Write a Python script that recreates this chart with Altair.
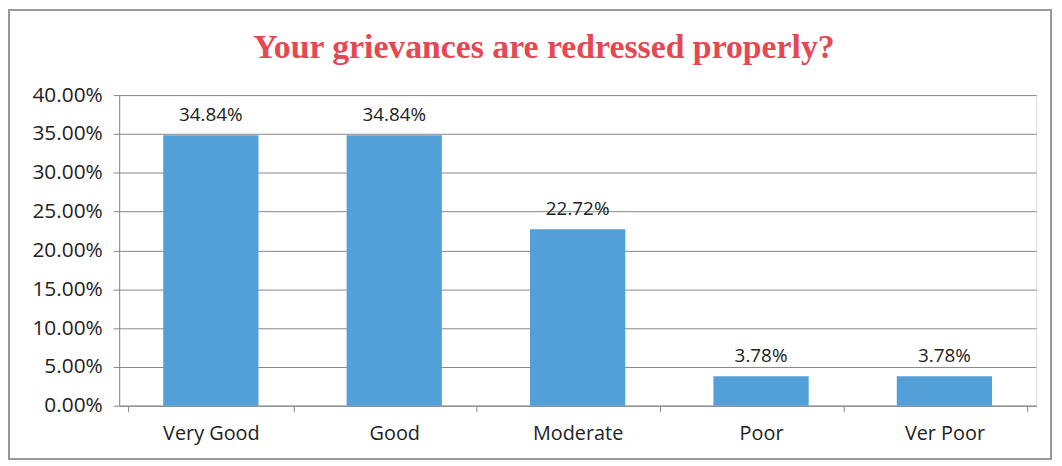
import altair as alt
import pandas as pd

categories = ["Very Good", "Good", "Moderate", "Poor", "Ver Poor"]
values = [0.3484, 0.3484, 0.2272, 0.0378, 0.0378]
y_ticks = [0, 0.05, 0.1, 0.15, 0.2, 0.25, 0.3, 0.35, 0.4]

df = pd.DataFrame({"cat": categories, "val": values})

W, H = 924, 313
FONT = "Open Sans"

xenc = alt.X("cat:N", sort=categories, title=None,
             axis=alt.Axis(labelAngle=0, labelFontSize=20, labelFont=FONT, labelColor="#222",
                           labelPadding=12, tickBand="extent", ticks=True, tickSize=6,
                           tickColor="#888", domainColor="#888", grid=False))
yenc = alt.Y("val:Q", title=None, scale=alt.Scale(domain=[0, 0.4]),
             axis=alt.Axis(format=".2%", values=y_ticks, labelOverlap=False,
                           labelFontSize=21, labelFont=FONT, labelColor="#222", labelPadding=11,
                           tickSize=6, tickColor="#888", domainColor="#888",
                           gridColor="#888", gridWidth=1))

base = alt.Chart(df).encode(x=xenc, y=yenc)

bars = base.mark_bar(color="#539fd8", size=96)

labels = base.mark_text(dy=-20, fontSize=19, font=FONT, color="#222").encode(
    text=alt.Text("val:Q", format=".2%"),
)

frame = alt.Chart(df).mark_rect(fill=None, stroke="#999", strokeWidth=1.5, clip=False).encode(
    x=alt.value(-111), x2=alt.value(W + 15),
    y=alt.value(-86), y2=alt.value(H + 54),
)

chart = alt.layer(bars, labels, frame).properties(
    width=W, height=H,
    padding={"left": 112, "top": 86, "right": 18, "bottom": 58},
    autosize=alt.AutoSizeParams(type="none"),
    title=alt.TitleParams("Your grievances are redressed properly?", font="Liberation Serif",
                          fontSize=34, fontWeight="bold", color="#e54753", offset=0, dy=56, dx=-34,
                          anchor="middle", frame="group"),
).configure_view(stroke=None).configure(background="white")

chart.save("out.html", embed_options={"renderer": "svg", "actions": False})
